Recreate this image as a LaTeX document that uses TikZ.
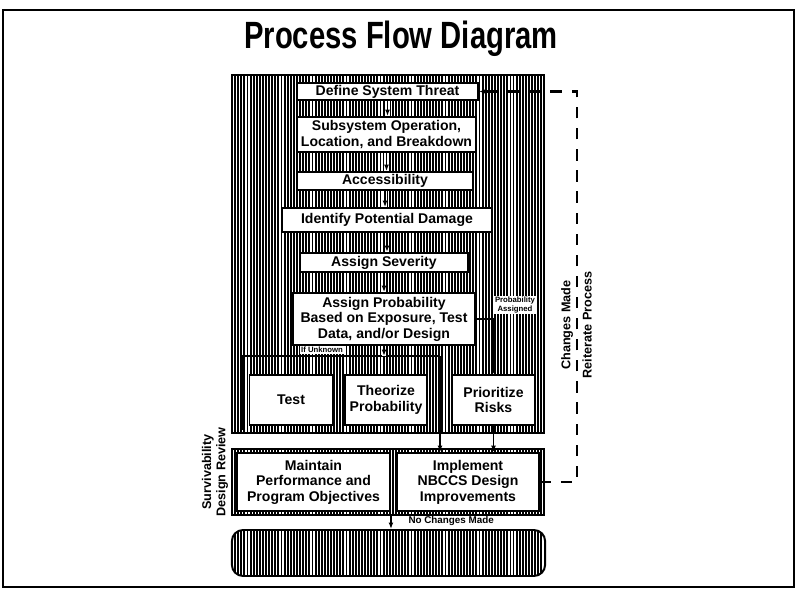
\documentclass[tikz,border=0pt]{standalone}
\usepackage{fontspec}
\setmainfont{Liberation Sans}
\usetikzlibrary{positioning,arrows.meta,patterns.meta}

\tikzset{
  hatch/.style={pattern={Lines[angle=90,distance=2.2pt,line width=1.35pt]}},
  stage/.style={draw, line width=1.2pt, fill=white, align=center, inner sep=1pt,
    font=\bfseries\fontsize{10}{11}\selectfont},
  arr/.style={-{Latex[length=1.6mm]}, line width=1.2pt},
  link/.style={arr, preaction={draw=white, line width=3.5pt, arrows=-}},
  loopline/.style={-{Latex[length=1.8mm]}, line width=1.5pt, dash pattern=on 8pt off 7pt},
  vlabel/.style={rotate=90, align=center, inner sep=1pt, font=\bfseries\fontsize{9}{10}\selectfont},
  tiny/.style={fill=white, inner sep=0.6pt, align=center, font=\bfseries\fontsize{5.5}{6}\selectfont}
}

\begin{document}
\begin{tikzpicture}[x=0.025cm, y=-0.025cm]
    \useasboundingbox (0,0) rectangle (796,589);
    \draw[line width=2pt] (3,10) rectangle (794,587);
    \node[font=\bfseries\fontsize{27}{30}\selectfont, xscale=0.77] (title) at (401,39) {Process Flow Diagram};

    % shaded backgrounds
    \node[draw, line width=1.6pt, hatch, minimum width=7.8cm, minimum height=8.95cm] (panel) at (388,254) {};
    \node[draw, line width=1.4pt, hatch, minimum width=7.8cm, minimum height=1.65cm] (review) at (388,482) {};
    \node[draw, line width=1.4pt, hatch, rounded corners=8pt, minimum width=7.83cm, minimum height=1.15cm] (record) at (388.5,553) {};

    % main chain
    \node[stage, minimum width=4.53cm, minimum height=0.43cm] (threat) at (387.5,91.5) {Define System Threat};
    \node[stage, minimum width=4.48cm, minimum height=0.88cm] (subsys) at (386.5,134.5) {Subsystem Operation,\\Location, and Breakdown};
    \node[stage, minimum width=4.4cm, minimum height=0.45cm] (access) at (385,181) {Accessibility};
    \node[stage, minimum width=5.25cm, minimum height=0.6cm] (damage) at (387,220) {Identify Potential Damage};
    \node[stage, minimum width=4.2cm, minimum height=0.48cm] (severity) at (384,262.5) {Assign Severity};
    \node[stage, minimum width=4.55cm, minimum height=1.3cm] (prob) at (384,319) {Assign Probability\\Based on Exposure, Test\\Data, and/or Design};
    \foreach \a/\b in {threat/subsys,subsys/access,access/damage,damage/severity,severity/prob}
        \draw[link] (\a.south) -- (\a.south |- \b.north);

    \node[stage, minimum width=2.08cm, minimum height=1.25cm] (test) at (291,400) {Test};
    \node[stage, minimum width=2.05cm, minimum height=1.25cm] (theory) at (386,400) {Theorize\\Probability};
    \node[stage, minimum width=2.08cm, minimum height=1.25cm] (prior) at (493.5,400) {Prioritize\\Risks};

    \node[stage, minimum width=3.83cm, minimum height=1.45cm] (maintain) at (313.5,482) {Maintain\\Performance and\\Program Objectives};
    \node[stage, minimum width=3.55cm, minimum height=1.45cm] (implement) at (468,482) {Implement\\NBCCS Design\\Improvements};

    % test / theorize branch
    \coordinate (gsw) at (243,430);
    \coordinate (gne) at (440,356);
    \draw[line width=1.4pt] (gsw) |- (gne);
    \draw[link] (prob.south) -- (prob.south |- gne);
    \node[tiny] (unknown) at (322,350) {If Unknown};
    \draw[arr] (gne) -- (gne |- implement.north);

    % prioritize branch
    \draw[arr] (prob.east) -| (prior.north);
    \node[tiny] (assigned) at (515,305) {Probability\\Assigned};
    \draw[arr] (prior.south) -- (prior.south |- implement.north);

    % review outcome
    \draw[arr] (maintain.east |- review.south) -- (maintain.east |- record.north)
        node[pos=0.35, anchor=west, xshift=0.3cm, font=\bfseries\fontsize{7}{8}\selectfont] {No Changes Made};
    \coordinate (loop) at (577,300);
    \draw[loopline] (implement.east) -| (loop) |- (threat.east);
    \node[vlabel] (chg) at (567,325) {Changes Made};
    \node[vlabel] (reit) at (587,325) {Reiterate Process};
    \node[vlabel] (sdr) at (215,472) {Survivability\\Design Review};
\end{tikzpicture}
\end{document}
